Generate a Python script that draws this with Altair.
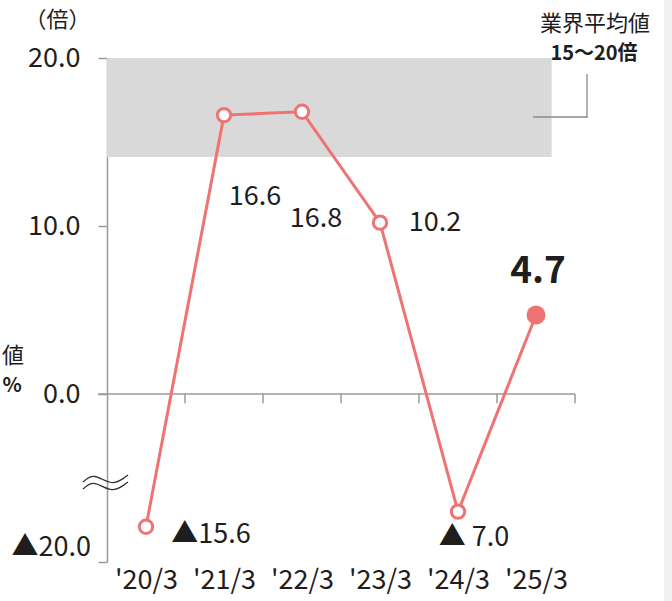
import json
import altair as alt
import pandas as pd

# ---------------- data ----------------
categories = ["'20/3", "'21/3", "'22/3", "'23/3", "'24/3", "'25/3"]
values = [-15.6, 16.6, 16.8, 10.2, -7.0, 4.7]          # actual values
axis_pos = [-7.9, 16.6, 16.8, 10.2, -7.0, 4.7]         # position on the broken axis
value_labels = ["▲15.6", "16.6", "16.8", "10.2", "▲ 7.0", "4.7"]
y_ticks = [20, 10, 0, -10]
y_tick_labels = ["20.0", "10.0", "0.0", "▲20.0"]
band_low, band_high = 14.1, 20.0
band_text = ["業界平均値", "15〜20倍"]
unit_text = "（倍）"
side_text = ["値", "%"]

# ---------------- style ----------------
RED = "#F07373"
AXIS = "#9a9a9a"
TXT = "#1e1e1e"
FONT = "Noto Sans CJK JP"
FS = 27
W, H = 468, 504

# per-label offsets (px) relative to the point
label_offsets = [(65, 8), (31, 82), (14, 107), (55, 0), (16, 26), (2, -43)]

df = pd.DataFrame({"idx": list(range(len(categories))), "cat": categories,
                   "value": values, "pos": axis_pos, "label": value_labels})

xs = alt.Scale(domain=[-0.5, len(categories) - 0.5], nice=False, zero=False)
ys = alt.Scale(domain=[-10, 20], nice=False, zero=False)

x_axis = alt.Axis(values=list(range(len(categories))),
                  labelExpr=f"{json.dumps(categories)}[datum.value]",
                  domain=False, ticks=False, tickSize=0, grid=False, title=None,
                  labelFont=FONT, labelFontSize=FS, labelColor=TXT,
                  labelPadding=18, labelBaseline="middle")
y_axis = alt.Axis(values=y_ticks,
                  labelExpr="datum.value < -5 ? '' : format(datum.value, '.1f')",
                  domain=True, domainColor=AXIS, domainWidth=1.5,
                  ticks=True, tickColor=AXIS, tickWidth=1.5, tickSize=9,
                  grid=False, labelFont=FONT, labelFontSize=FS, labelColor=TXT,
                  labelPadding=18, labelBaseline="middle",
                  title=unit_text, titleAngle=0, titleX=-50, titleY=-39,
                  titleAlign="center", titleBaseline="middle",
                  titleFont=FONT, titleFontSize=22, titleFontWeight="normal",
                  titleColor=TXT)

# shaded industry-average band
band = alt.Chart(pd.DataFrame({"x": [-0.5], "x2": [5.2], "y": [band_low], "y2": [band_high]})
                 ).mark_rect(color="#d9d9d9").encode(
    x=alt.X("x:Q", scale=xs, axis=x_axis),
    x2="x2:Q",
    y=alt.Y("y:Q", scale=ys, axis=y_axis),
    y2="y2:Q")

# right-edge strip
strip = alt.Chart(pd.DataFrame({"a": [0]})).mark_rect(color="#f1f1f1").encode(
    x=alt.value(557), x2=alt.value(566), y=alt.value(-58), y2=alt.value(543))

# zero line and its ticks at category boundaries
zero = alt.Chart(pd.DataFrame({"a": [0]})).mark_rule(color=AXIS, strokeWidth=1.5).encode(
    y=alt.datum(0), x=alt.value(-9), x2=alt.value(W))
bounds = pd.DataFrame({"b": [i + 0.5 for i in range(len(categories))]})
zticks = alt.Chart(bounds).mark_rule(color=AXIS, strokeWidth=1.5).encode(
    x=alt.X("b:Q", scale=xs), y=alt.datum(0), y2=alt.datum(-0.55))

# axis break symbol (two waves)
wave_x = [-0.808, -0.654, -0.436, -0.231]
wave_y = [-5.24, -4.91, -5.27, -4.82]
wave_df = pd.DataFrame({
    "wx": wave_x * 2,
    "wy": wave_y + [v - 0.42 for v in wave_y],
    "w": ["a"] * 4 + ["b"] * 4})
waves = alt.Chart(wave_df).mark_line(color="#333333", strokeWidth=1.3,
                                     interpolate="natural").encode(
    x=alt.X("wx:Q", scale=xs), y=alt.Y("wy:Q", scale=ys), detail="w:N")

base = alt.Chart(df)
line = base.mark_line(color=RED, strokeWidth=3).encode(
    x=alt.X("idx:Q", scale=xs), y=alt.Y("pos:Q", scale=ys))
open_pts = base.transform_filter(alt.datum.idx < len(categories) - 1).mark_point(
    shape="circle", filled=True, fill="white", stroke=RED, strokeWidth=3,
    size=180, opacity=1).encode(x=alt.X("idx:Q", scale=xs), y=alt.Y("pos:Q", scale=ys))
last_pt = base.transform_filter(alt.datum.idx == len(categories) - 1).mark_circle(
    color=RED, size=360, opacity=1).encode(x=alt.X("idx:Q", scale=xs), y=alt.Y("pos:Q", scale=ys))

labels = []
for i, (dx, dy) in enumerate(label_offsets):
    last = i == len(categories) - 1
    labels.append(base.transform_filter(alt.datum.idx == i).mark_text(
        dx=dx, dy=dy, align="center", baseline="middle", font=FONT,
        fontSize=37 if last else FS, fontWeight="bold" if last else "normal",
        color=TXT).encode(x=alt.X("idx:Q", scale=xs), y=alt.Y("pos:Q", scale=ys),
                          text="label:N"))

# bottom (broken) tick label
bottom_lab = alt.Chart(pd.DataFrame({"v": [y_ticks[-1]], "t": [y_tick_labels[-1]]})).mark_text(
    align="right", baseline="middle", dy=-14, font=FONT, fontSize=FS, color=TXT).encode(
    x=alt.value(-16), y=alt.Y("v:Q", scale=ys), text="t:N")

# industry average annotation
ann1 = alt.Chart(pd.DataFrame({"t": [band_text[0]]})).mark_text(
    align="center", baseline="middle", font=FONT, fontSize=22, color=TXT).encode(
    x=alt.value(488), y=alt.value(-34), text="t:N")
ann2 = alt.Chart(pd.DataFrame({"t": [band_text[1]]})).mark_text(
    align="center", baseline="middle", font=FONT, fontSize=20, fontWeight="bold",
    color=TXT).encode(x=alt.value(487), y=alt.value(-4), text="t:N")
lead_v = alt.Chart(pd.DataFrame({"a": [0]})).mark_rule(color="#8a8a8a", strokeWidth=1.3).encode(
    x=alt.value(480), y=alt.value(16), y2=alt.value(59.5))
lead_h = alt.Chart(pd.DataFrame({"a": [0]})).mark_rule(color="#8a8a8a", strokeWidth=1.3).encode(
    x=alt.value(426), x2=alt.value(480.6), y=alt.value(59))

side1 = alt.Chart(pd.DataFrame({"t": [side_text[0]]})).mark_text(
    align="center", baseline="middle", font=FONT, fontSize=22, color=TXT).encode(
    x=alt.value(-94), y=alt.value(298), text="t:N")
side2 = alt.Chart(pd.DataFrame({"t": [side_text[1]]})).mark_text(
    align="center", baseline="middle", font=FONT, fontSize=20, fontWeight="bold",
    color=TXT).encode(x=alt.value(-95), y=alt.value(328), text="t:N")

chart = alt.layer(
    band, strip, zero, zticks, waves, line, open_pts, last_pt, *labels,
    bottom_lab, ann1, ann2, lead_v, lead_h, side1, side2
).properties(
    width=W, height=H,
    padding={"left": 107, "top": 58, "right": 97, "bottom": 39},
    autosize=alt.AutoSizeParams(type="none"),
    background="white",
).configure_view(stroke=None)

chart.save("out.html", embed_options={"renderer": "svg", "actions": False})
